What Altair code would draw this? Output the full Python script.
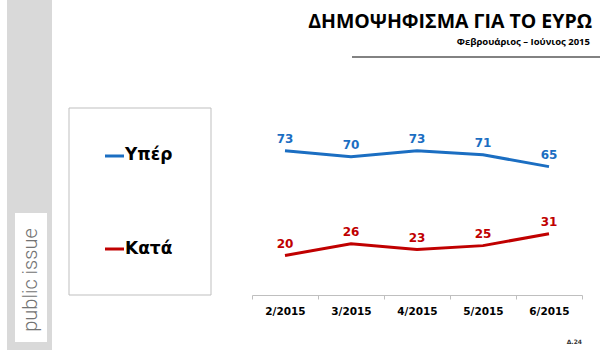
import altair as alt
import pandas as pd

months = ["2/2015", "3/2015", "4/2015", "5/2015", "6/2015"]
yper = [73, 70, 73, 71, 65]
kata = [20, 26, 23, 25, 31]
series_names = ["Υπέρ", "Κατά"]
series_colors = ["#1B6EC2", "#C00000"]

rows = []
for m, v in zip(months, yper):
    rows.append({"month": m, "value": v, "series": series_names[0]})
for m, v in zip(months, kata):
    rows.append({"month": m, "value": v, "series": series_names[1]})
df = pd.DataFrame(rows)

# plot-area origin in page pixels
OX, OY = 252, 137
def px(x):
    return x - OX
def py(y):
    return y - OY

one = alt.Data(values=[{"a": 1}])

x_enc = alt.X("month:O", sort=months,
              scale=alt.Scale(paddingInner=0, paddingOuter=0),
              axis=alt.Axis(title=None, labelAngle=0, labelFont="DejaVu Sans",
                            labelFontWeight="bold", labelFontSize=10.5,
                            labelColor="#000000", labelPadding=7,
                            domainColor="#BFBFBF", tickColor="#BFBFBF",
                            tickSize=4, tickBand="extent"))
y_enc = alt.Y("value:Q", scale=alt.Scale(domain=[0, 80]), axis=None)
color_enc = alt.Color("series:N", scale=alt.Scale(domain=series_names, range=series_colors), legend=None)

lines = alt.Chart(df).mark_line(strokeWidth=3).encode(
    x=x_enc, y=y_enc, color=color_enc, detail="series:N")
labels = alt.Chart(df).mark_text(dy=-12, baseline="middle", font="DejaVu Sans",
                                 fontWeight="bold", fontSize=12).encode(
    x=x_enc, y=y_enc, color=color_enc, text="value:Q")

def rect(x1, y1, x2, y2, fill, stroke=None):
    kw = dict(fill=fill)
    if stroke:
        kw.update(stroke=stroke, strokeWidth=1)
    return alt.Chart(one).mark_rect(**kw).encode(
        x=alt.value(px(x1)), x2=alt.value(px(x2)),
        y=alt.value(py(y1)), y2=alt.value(py(y2)))

def text(t, x, y, size, color="#000000", font="Open Sans", weight="bold", align="left", angle=None):
    kw = dict(text=t, fontSize=size, font=font, fontWeight=weight, color=color,
              align=align, baseline="middle")
    if angle is not None:
        kw["angle"] = angle
    return alt.Chart(one).mark_text(**kw).encode(x=alt.value(px(x)), y=alt.value(py(y)))

def hline(x1, x2, y, color, width):
    return alt.Chart(one).mark_rule(color=color, strokeWidth=width).encode(
        x=alt.value(px(x1)), x2=alt.value(px(x2)), y=alt.value(py(y)))

sidebar = rect(7, 0, 52, 350, "#D9D9D9")
sidebox = rect(15, 213, 47, 342, "#FFFFFF")
brand = text("public issue", 31, 280, 20, color="#737373", font="Roboto", weight=300,
             align="center", angle=270)

legend_box = rect(69, 108, 211, 295, "#FFFFFF", stroke="#BFBFBF")
leg1_line = hline(105, 124, 156, series_colors[0], 3)
leg1_text = text(series_names[0], 125, 155, 17, font="DejaVu Sans")
leg2_line = hline(105, 124, 249, series_colors[1], 3)
leg2_text = text(series_names[1], 125, 249, 17, font="DejaVu Sans")

title = text("ΔΗΜΟΨΗΦΙΣΜΑ ΓΙΑ ΤΟ ΕΥΡΩ", 592, 22, 19.5, align="right")
subtitle = text("Φεβρουάριος – Ιούνιος 2015", 590, 42, 9.5, align="right")
title_rule = hline(352, 600, 57, "#595959", 1.5)
page = text("Δ.24", 582, 342, 6, color="#333333", font="DejaVu Sans", align="right")

chart = alt.layer(
    sidebar, sidebox, brand, legend_box, leg1_line, leg1_text, leg2_line, leg2_text,
    title, subtitle, title_rule, page, lines, labels
).properties(
    width=330, height=158,
    padding={"left": OX, "top": OY, "right": 18, "bottom": 55},
    autosize=alt.AutoSizeParams(type="none"),
    background="#FFFFFF"
).configure_view(stroke=None)

chart.save("out.html", embed_options={"renderer": "svg", "actions": False})
